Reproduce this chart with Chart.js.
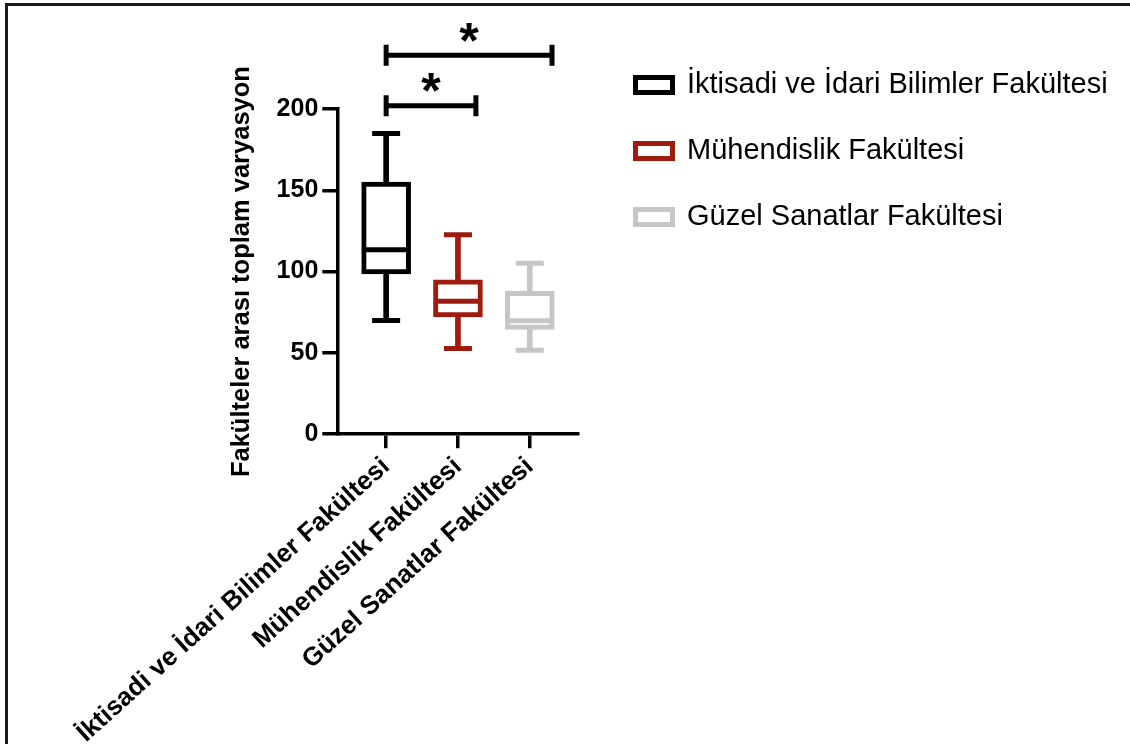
<!DOCTYPE html>
<html lang="tr">
<head>
<meta charset="utf-8">
<title>Fakülteler arası toplam varyasyon</title>
<script src="https://cdn.jsdelivr.net/npm/chart.js@4.4.1/dist/chart.umd.min.js"></script>
<style>
  html, body { margin: 0; padding: 0; background: #fff; }
  #wrap { position: relative; width: 1130px; height: 744px; overflow: hidden; background: #fff; }
  #frame { position: absolute; left: 5px; top: 3px; width: 1200px; height: 800px;
           border-top: 3px solid #1a1a1a; border-left: 3px solid #1a1a1a; }
  #chart { position: absolute; left: 0; top: 0; }
</style>
</head>
<body>
<div id="wrap">
  <div id="frame"></div>
  <canvas id="chart" width="1130" height="744"></canvas>
</div>
<script>
const faculties = ['İktisadi ve İdari Bilimler Fakültesi', 'Mühendislik Fakültesi', 'Güzel Sanatlar Fakültesi'];
const minValues = [70, 52.7, 51.7];
const q1Values = [98.6, 72.2, 64.4];
const medianValues = [113.4, 81.7, 69.8];
const q3Values = [155, 95, 87.8];
const maxValues = [185, 122.6, 105.1];
const boxColors = ['#000000', '#9e1b0e', '#c6c6c6'];
const yTickValues = [0, 50, 100, 150, 200];

// anlamlılık çizgileri (x: grup sırası, y: değer)
const bracketFrom = [0, 0];
const bracketTo = [1.25, 2.31];
const bracketLevel = [202, 233];
const bracketMark = ['*', '*'];

const idx = faculties.map((_, i) => i);
const fontFamily = "'Liberation Sans', Arial, Helvetica, sans-serif";
Chart.defaults.font.family = fontFamily;
Chart.defaults.color = '#000';

// legend sağ üstte, grafiğin üst boşluğundan bağımsız dursun
const legendSpot = {
  id: 'legendSpot',
  beforeDraw(chart) {
    const lg = chart.legend;
    const w = lg.right - lg.left;
    const h = lg.bottom - lg.top;
    lg.left = 598.5; lg.right = lg.left + w;
    lg.top = 33.5; lg.bottom = lg.top + h;
  }
};

const significance = {
  id: 'significance',
  afterDatasetsDraw(chart) {
    const { ctx, scales: { x, y } } = chart;
    ctx.save();
    ctx.strokeStyle = '#000';
    ctx.fillStyle = '#000';
    ctx.lineWidth = 5;
    ctx.font = 'bold 50px ' + fontFamily;
    ctx.textAlign = 'center';
    bracketLevel.forEach((level, k) => {
      const x0 = x.getPixelForValue(bracketFrom[k]);
      const x1 = x.getPixelForValue(bracketTo[k]);
      const yy = y.getPixelForValue(level);
      ctx.beginPath();
      ctx.moveTo(x0, yy); ctx.lineTo(x1, yy);
      ctx.moveTo(x0, yy - 10.5); ctx.lineTo(x0, yy + 10.5);
      ctx.moveTo(x1, yy - 10.5); ctx.lineTo(x1, yy + 10.5);
      ctx.stroke();
      const m = ctx.measureText(bracketMark[k]);
      const inkMid = (m.actualBoundingBoxAscent - m.actualBoundingBoxDescent) / 2;
      ctx.fillText(bracketMark[k], (x0 + x1) / 2, yy - 23 + inkMid);
    });
    ctx.restore();
  }
};

const axisLine = { color: '#000', width: 3.5 };
const axisGrid = { drawOnChartArea: false, offset: false, color: '#000', lineWidth: 3.5 };

new Chart(document.getElementById('chart'), {
  type: 'bar',
  data: {
    datasets: [
      {
        type: 'scatter',
        label: 'Medyan',
        data: idx.map(i => ({ x: i, y: medianValues[i] })),
        pointStyle: 'line',
        pointRadius: 22,
        pointBorderWidth: 5,
        pointBorderColor: boxColors,
        order: 0
      },
      {
        label: 'Kutu',
        data: idx.map(i => ({ x: i, y: [q1Values[i], q3Values[i]] })),
        backgroundColor: '#fff',
        borderColor: boxColors,
        borderWidth: 5,
        borderSkipped: false,
        barThickness: 49,
        grouped: false,
        order: 1
      },
      {
        type: 'scatter',
        label: 'Uçlar',
        data: idx.flatMap(i => [{ x: i, y: minValues[i] }, { x: i, y: maxValues[i] }]),
        pointStyle: 'line',
        pointRadius: 14,
        pointBorderWidth: 5,
        pointBorderColor: idx.flatMap(i => [boxColors[i], boxColors[i]]),
        order: 2
      },
      {
        label: 'Bıyık',
        data: idx.map(i => ({ x: i, y: [minValues[i], maxValues[i]] })),
        backgroundColor: boxColors,
        borderWidth: 0,
        barThickness: 5,
        grouped: false,
        order: 3
      }
    ]
  },
  options: {
    responsive: false,
    animation: false,
    events: [],
    layout: { padding: { left: 227, right: 33, top: 109, bottom: -8 } },
    plugins: {
      tooltip: { enabled: false },
      legend: {
        position: 'right',
        align: 'start',
        maxWidth: 600,
        labels: {
          boxWidth: 37,
          boxHeight: 15,
          padding: 37,
          color: '#111',
          font: { size: 29, weight: 'normal' },
          generateLabels: () => faculties.map((name, i) => ({
            text: name,
            fillStyle: '#fff',
            strokeStyle: boxColors[i],
            lineWidth: 5,
            hidden: false,
            index: i
          }))
        }
      }
    },
    scales: {
      x: {
        type: 'linear',
        min: -0.68,
        max: 2.67,
        offset: false,
        afterBuildTicks: axis => { axis.ticks = idx.map(v => ({ value: v })); },
        afterFit: axis => { axis.paddingLeft = 0; axis.paddingRight = 0; },
        grid: { ...axisGrid, tickLength: 14 },
        border: axisLine,
        ticks: {
          autoSkip: false,
          minRotation: 42,
          maxRotation: 42,
          padding: 3,
          color: '#000',
          font: { size: 26, weight: 'bold' },
          callback: v => faculties[v]
        }
      },
      y: {
        min: 0,
        max: 200,
        afterBuildTicks: axis => { axis.ticks = yTickValues.map(v => ({ value: v })); },
        grid: { ...axisGrid, tickLength: 15 },
        border: axisLine,
        ticks: { padding: 4, color: '#000', font: { size: 25, weight: 'bold' } },
        title: {
          display: true,
          text: 'Fakülteler arası toplam varyasyon',
          color: '#000',
          font: { size: 25.5, weight: 'bold' },
          padding: { top: 0, bottom: 15 }
        }
      }
    }
  },
  plugins: [legendSpot, significance]
});
</script>
</body>
</html>
